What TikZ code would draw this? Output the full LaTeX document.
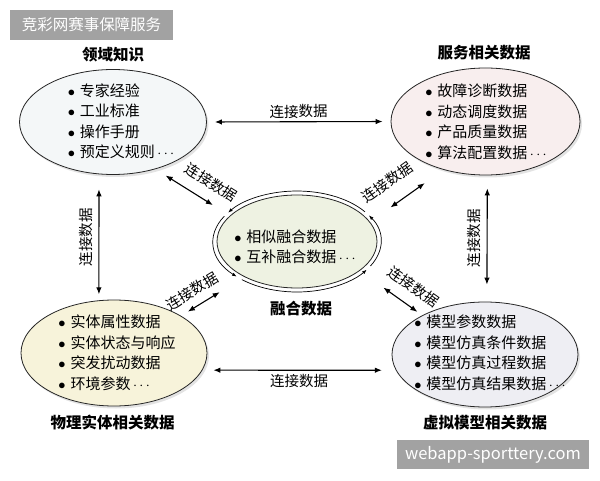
\documentclass[tikz,border=0pt]{standalone}
\usepackage{fontspec}
\setmainfont{Noto Sans CJK SC}
\usepackage{xcolor}
\usepackage{tikz}
\usetikzlibrary{positioning,calc,shapes.geometric,arrows.meta,backgrounds,shadows}
\definecolor{markgray}{HTML}{A2A2A2}
\definecolor{domainfill}{HTML}{F4F7F8}
\definecolor{servicefill}{HTML}{F8EEEE}
\definecolor{physicalfill}{HTML}{F7F3DA}
\definecolor{virtualfill}{HTML}{EEEEF3}
\definecolor{fusionfill}{HTML}{EEF2E2}
\definecolor{bluehaze}{HTML}{DCEBF0}
\definecolor{pinkhaze}{HTML}{F6E5E5}
\definecolor{yellowhaze}{HTML}{F8F2D4}
\definecolor{grayhaze}{HTML}{EAEAEF}
\newcommand{\bitem}{$\bullet$\hspace{5pt}}
\newcommand{\more}{\,$\cdots$}
\newcommand{\datalist}[3]{
  \node[anchor=center, align=left, inner sep=0pt, font=\fontsize{15}{20.5}\selectfont] (#1) at #2 {#3};
}

\begin{document}
\begin{tikzpicture}[x=1pt,y=1pt,
  databubble/.style={ellipse, draw=black!85, line width=0.8pt, drop shadow={shadow xshift=2pt, shadow yshift=-2.5pt, opacity=0.22}},
  heading/.style={font=\bfseries\fontsize{15.5}{17}\selectfont},
  link/.style={{Latex[length=7pt,width=5.5pt]}-{Latex[length=7pt,width=5.5pt]}, line width=1.1pt},
  linklabel/.style={font=\fontsize{14.5}{16}\selectfont, sloped, inner sep=1pt},
  ringarc/.style={-{Latex[length=4.5pt,width=3.5pt]}, line width=0.7pt}]
\useasboundingbox (0,0) rectangle (600,480);
\fill[white] (0,0) rectangle (600,480);

% watermarks
\node[fill=markgray, text=white, minimum width=163, minimum height=30, inner sep=0pt, font=\fontsize{15.5}{17}\selectfont] (topmark) at (91.5,455) {竞彩网赛事保障服务};
\node[fill=markgray, text=white, minimum width=192, minimum height=29, inner sep=0pt, font=\fontsize{16.5}{18}\selectfont] (bottommark) at (493,25.5) {webapp-sporttery.com};

% data bubbles
\node[databubble, fill=domainfill, minimum width=187, minimum height=105] (domain) at (113,358) {};
\node[databubble, fill=servicefill, minimum width=189, minimum height=107] (service) at (485.5,358.5) {};
\node[databubble, fill=physicalfill, minimum width=186, minimum height=106] (physical) at (114,127) {};
\node[databubble, fill=virtualfill, minimum width=186, minimum height=105] (virtual) at (485,125.5) {};
\node[ellipse, draw=black!85, line width=0.8pt, fill=fusionfill, minimum width=160, minimum height=93] (fusion) at (297,238.5) {};
\foreach \a/\b in {331/391,36/145,150/224,229/326}
  \draw[ringarc] (fusion.center) ++(\a:84pt and 50.5pt) arc[start angle=\a, end angle=\b, x radius=84pt, y radius=50.5pt];

% haze behind the links
\begin{scope}[on background layer]
\fill[bluehaze, opacity=0.8] (domain.-80) -- (domain.-15) -- (fusion.150) -- (fusion.195) -- cycle;
\fill[pinkhaze, opacity=0.8] (service.195) -- (service.265) -- (fusion.-15) -- (fusion.30) -- cycle;
\fill[yellowhaze, opacity=0.8] (physical.10) -- (physical.80) -- (fusion.170) -- (fusion.215) -- cycle;
\fill[grayhaze, opacity=0.8] (virtual.170) -- (virtual.100) -- (fusion.15) -- (fusion.-30) -- cycle;
\end{scope}

% item lists
\datalist{domainlist}{(121,358.5)}{\bitem 专家经验\\ \bitem 工业标准\\ \bitem 操作手册\\ \bitem 预定义规则\more}
\datalist{servicelist}{(486,358)}{\bitem 故障诊断数据\\ \bitem 动态调度数据\\ \bitem 产品质量数据\\ \bitem 算法配置数据\more}
\datalist{physicallist}{(117,127)}{\bitem 实体属性数据\\ \bitem 实体状态与响应\\ \bitem 突发扰动数据\\ \bitem 环境参数\more}
\datalist{virtuallist}{(490,127)}{\bitem 模型参数数据\\ \bitem 模型仿真条件数据\\ \bitem 模型仿真过程数据\\ \bitem 模型仿真结果数据\more}
\datalist{fusionlist}{(295,233)}{\bitem 相似融合数据\\ \bitem 互补融合数据\more}

% titles
\node[heading] (domaintitle) at (113,425) {领域知识};
\node[heading] (servicetitle) at (484,427) {服务相关数据};
\node[heading] (physicaltitle) at (112.5,57) {物理实体相关数据};
\node[heading] (virtualtitle) at (485,57) {虚拟模型相关数据};
\node[heading] (fusiontitle) at (301,171) {融合数据};

% links
\draw[link, shorten <=8pt, shorten >=8pt] (domain.east) -- (service.west) node[linklabel, midway, above=2pt] {连接数据};
\draw[link, shorten <=11pt, shorten >=14pt] (physical.-11) -- (virtual.190) node[linklabel, midway, below=3pt] {连接数据};
\draw[link, shorten <=6pt, shorten >=15pt] (physical.106) -- (domain.255) node[linklabel, midway, above=5pt] {连接数据};
\draw[link, shorten <=13pt, shorten >=17pt] (service.-88) -- (virtual.88) node[linklabel, midway, above=5pt] {连接数据};
\draw[link, shorten <=12pt, shorten >=20pt] (domain.-48) -- (fusion.159) node[linklabel, pos=0.62, above=10pt] {连接数据};
\draw[link, shorten <=25pt, shorten >=23pt] (fusion.15) -- (service.229) node[linklabel, pos=0.41, above=14pt] {连接数据};
\draw[link, shorten <=8pt, shorten >=29pt] (physical.29) -- (fusion.214) node[linklabel, pos=0.3, above=7pt] {连接数据};
\draw[link, shorten <=29pt, shorten >=6pt] (fusion.-25) -- (virtual.148) node[linklabel, pos=0.69, above=10pt] {连接数据};
\end{tikzpicture}
\end{document}
